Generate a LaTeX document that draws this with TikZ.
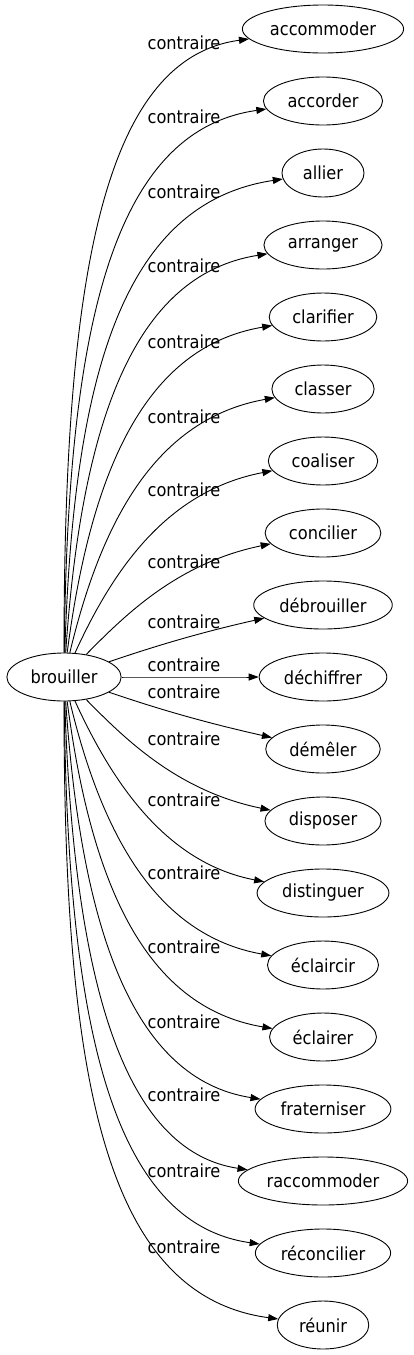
\documentclass[tikz,border=0pt]{standalone}
\usepackage{fontspec}
\setmainfont{DejaVu Sans}[FakeStretch=0.9]
\usepackage{tikz}
\usetikzlibrary{arrows.meta,shapes.geometric}

\begin{document}
\begin{tikzpicture}[x=1pt,y=-1pt,
  wordnode/.style={draw,ellipse,inner sep=0pt,minimum height=48pt,line width=0.9pt},
  reledge/.style={line width=0.9pt,-{Triangle[length=10pt,width=7pt]}},
  rellabel/.style={inner sep=0pt}]
  \fontsize{18}{21}\selectfont
  \useasboundingbox (0,0) rectangle (414,1355);
  \pgfmathsetmacro\nodewd{1.2*width("brouiller")+34}
  \node[wordnode,minimum width=\nodewd] (brouiller) at (64,677) {brouiller};
  \foreach \word/\laby [count=\idx from 0] in {accommoder/43,accorder/117,allier/192,arranger/266,
      clarifier/342,classer/417,coaliser/490,concilier/562,débrouiller/622,déchiffrer/665,
      démêler/692,disposer/739,distinguer/800,éclaircir/873,éclairer/947,fraterniser/1022,
      raccommoder/1095,réconcilier/1171,réunir/1247}{
    \pgfmathsetmacro\tgty{29+72*\idx}
    \pgfmathsetmacro\tgdy{\tgty-677}
    \pgfmathsetmacro\tgu{abs(\tgdy)/648}
    \pgfmathsetmacro\tgs{sign(\tgdy)}
    \pgfmathsetmacro\tgf{0.6-0.35*(1-\tgu)^3}
    \pgfmathsetmacro\nodewd{1.2*width("\word")+34}
    \node[wordnode,minimum width=\nodewd] (ant\idx) at (323,\tgty) {\word};
    \node[rellabel] (lab\idx) at (184,\laby) {contraire};
    \draw[reledge] (brouiller) .. controls ({64+90*(1-\tgu)*sqrt(1-\tgu)},{677+\tgf*(\tgdy)})
      and ({200-100*\tgu},{\tgty-30*\tgs}) .. (ant\idx);
  }
\end{tikzpicture}
\end{document}
